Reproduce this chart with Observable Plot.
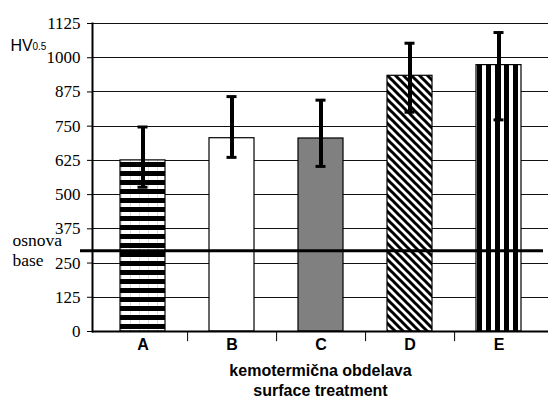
<!DOCTYPE html>
<html><head><meta charset="utf-8">
<script src="https://cdn.jsdelivr.net/npm/d3@7"></script>
<script src="https://cdn.jsdelivr.net/npm/@observablehq/plot@0.6"></script>
<style>body{margin:0;background:#fff}</style>
</head><body><div id="chart"></div>
<script>
const categories = ["A", "B", "C", "D", "E"];
const hardness = [625, 706, 705, 934, 973];
const errLow = [527, 636, 603, 801, 773];
const errHigh = [747, 858, 845, 1053, 1092];
const baseValue = 295;
const yTicks = [0, 125, 250, 375, 500, 625, 750, 875, 1000, 1125];
const axisTitle = ["kemotermična obdelava", "surface treatment"];
const baseLabel = ["osnova", "base"];
const yLabel = ["HV", "0.5"];

const data = categories.map((c, i) => ({cat: c, v: hardness[i], lo: errLow[i], hi: errHigh[i]}));
const fills = {A: "url(#pA)", B: "white", C: "#808080", D: "url(#pD)", E: "url(#pE)"};

const serif = "'Liberation Serif', 'Times New Roman', serif";
const sans = "'Liberation Sans', Arial, sans-serif";

const svg = Plot.plot({
  width: 548,
  height: 399,
  marginLeft: 92,
  marginRight: 0,
  marginTop: 23,
  marginBottom: 68,
  style: {background: "white", color: "black"},
  x: {domain: categories, range: [98, 544], paddingInner: 0.49, paddingOuter: 0.245, axis: null},
  y: {domain: [0, 1125], axis: null},
  color: {type: "identity"},
  marks: [
    Plot.ruleY(yTicks.filter(t => t > 0), {stroke: "#111", strokeWidth: 1, shapeRendering: "crispEdges"}),
    Plot.barY(data, {x: "cat", y: "v", fill: d => fills[d.cat], stroke: "black", strokeWidth: 1.2}),
    Plot.ruleY([baseValue], {strokeWidth: 3, insetLeft: -12, insetRight: 5}),
    Plot.ruleX(data, {x: "cat", y1: "lo", y2: "hi", strokeWidth: 4}),
    Plot.tickY(data, {x: "cat", y: "lo", strokeWidth: 3, insetLeft: 17.5, insetRight: 17.5}),
    Plot.tickY(data, {x: "cat", y: "hi", strokeWidth: 3, insetLeft: 17.5, insetRight: 17.5}),
    Plot.ruleY([0], {strokeWidth: 2}),
    Plot.frame({anchor: "left", strokeWidth: 2}),
    Plot.ruleX(categories.slice(0, 4), {x: d => d, dx: 44.6, y1: 0, y2: -37, strokeWidth: 1}),
    Plot.axisY({ticks: yTicks, tickSize: 5, tickPadding: 7, fontSize: 17, label: null, tickFormat: d => String(d)}),
    Plot.axisX({tickSize: 0, tickPadding: 7, fontSize: 16, fontWeight: "bold", label: null}),
    Plot.text([axisTitle.join("\n")], {frameAnchor: "bottom", lineAnchor: "top", dy: 30.5, dx: 0, lineHeight: 1.25, fontSize: 16, fontWeight: "bold"}),
    Plot.text([baseLabel[0]], {y: [baseValue], frameAnchor: "left", textAnchor: "start", dx: -80, dy: -10.8, fontSize: 17.5}),
    Plot.text([baseLabel[1]], {y: [baseValue], frameAnchor: "left", textAnchor: "start", dx: -80, dy: 9.2, fontSize: 17.5}),
    Plot.text([yLabel[0]], {frameAnchor: "top-left", textAnchor: "start", dx: -82, dy: 16, fontSize: 16}),
    Plot.text([yLabel[1]], {frameAnchor: "top-left", textAnchor: "start", dx: -60, dy: 19.8, fontSize: 10})
  ]
});

const serifTexts = new Set([...yTicks.map(String), ...baseLabel]);
d3.select(svg).selectAll("text").each(function() {
  const t = this.textContent.trim();
  this.style.setProperty("font-family", serifTexts.has(t) ? serif : sans, "important");
});

d3.select(svg).insert("defs", ":first-child").html(`
  <pattern id="pA" patternUnits="userSpaceOnUse" width="9" height="9">
    <rect width="9" height="9" fill="white"/>
    <rect width="9" height="5" fill="black"/>
    <rect x="4" y="5" width="1" height="4" fill="#ddd"/>
  </pattern>
  <pattern id="pE" patternUnits="userSpaceOnUse" width="9" height="9">
    <rect width="9" height="9" fill="white"/>
    <rect width="5" height="9" fill="black"/>
  </pattern>
  <pattern id="pD" patternUnits="userSpaceOnUse" width="8" height="8">
    <rect width="8" height="8" fill="white"/>
    <path d="M-2,-2 L10,10 M-2,6 L2,10 M6,-2 L10,2" stroke="black" stroke-width="3"/>
  </pattern>
`);

document.getElementById("chart").appendChild(svg);
</script>
</body></html>
